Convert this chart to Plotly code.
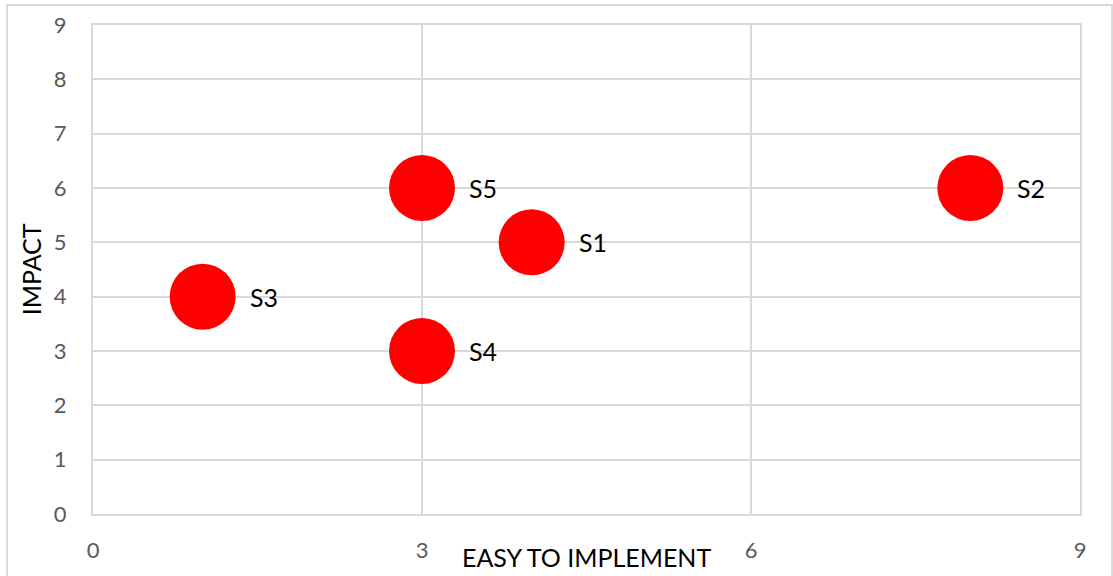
import plotly.graph_objects as go

# Solutions rated on ease of implementation vs. impact
names = ["S1", "S2", "S3", "S4", "S5"]
ease = [4, 8, 1, 3, 3]
impact = [5, 6, 4, 3, 6]

x_ticks = [0, 3, 6, 9]
y_ticks = list(range(0, 10))

FONT = "Lato"
GRID = "#d9d9d9"
TICK_COLOR = "#595959"

fig = go.Figure()
fig.add_trace(go.Scatter(
    x=ease, y=impact, mode="markers",
    marker=dict(size=66, color="#ff0000", line=dict(width=0)),
    hoverinfo="skip", showlegend=False,
))

# point labels to the right of each bubble
for n, xv, yv in zip(names, ease, impact):
    fig.add_annotation(x=xv, y=yv, text=n, showarrow=False,
                       xanchor="left", yanchor="middle", xshift=45,
                       font=dict(family=FONT, size=25, color="#000000"))

# axis titles
fig.add_annotation(xref="paper", yref="paper", x=0.5, y=-0.087,
                   text="EASY TO IMPLEMENT", showarrow=False,
                   xanchor="center", yanchor="middle",
                   font=dict(family=FONT, size=25, color="#000000"))
fig.add_annotation(xref="paper", yref="paper", x=-0.063, y=0.5,
                   text="IMPACT", showarrow=False, textangle=-90,
                   xanchor="center", yanchor="middle",
                   font=dict(family=FONT, size=25, color="#000000"))

# outer chart frame
fig.add_shape(type="rect", xref="paper", yref="paper",
              x0=-0.0871, x1=1.0324, y0=-0.2, y1=1.0409,
              line=dict(color="#d9d9d9", width=2), fillcolor="rgba(0,0,0,0)",
              layer="below")

fig.update_xaxes(range=[0, 9], tickvals=x_ticks, ticktext=[str(v) for v in x_ticks],
                 showgrid=True, gridcolor=GRID, gridwidth=2,
                 showline=True, linecolor=GRID, linewidth=2, mirror=True,
                 zeroline=False, ticks="outside", ticklen=16, tickcolor="rgba(0,0,0,0)",
                 tickfont=dict(family=FONT, size=22, color=TICK_COLOR),
                 automargin=False, fixedrange=True)
fig.update_yaxes(range=[0, 9], tickvals=y_ticks, ticktext=[str(v) for v in y_ticks],
                 showgrid=True, gridcolor=GRID, gridwidth=2,
                 showline=True, linecolor=GRID, linewidth=2, mirror=True,
                 zeroline=False, ticks="outside", ticklen=20, tickcolor="rgba(0,0,0,0)",
                 tickfont=dict(family=FONT, size=22, color=TICK_COLOR),
                 automargin=False, fixedrange=True)

fig.update_layout(
    width=1113, height=576,
    margin=dict(l=93, r=33, t=25, b=62),
    paper_bgcolor="white", plot_bgcolor="white",
    showlegend=False,
)

fig.write_html("out.html", config={"displayModeBar": False})
